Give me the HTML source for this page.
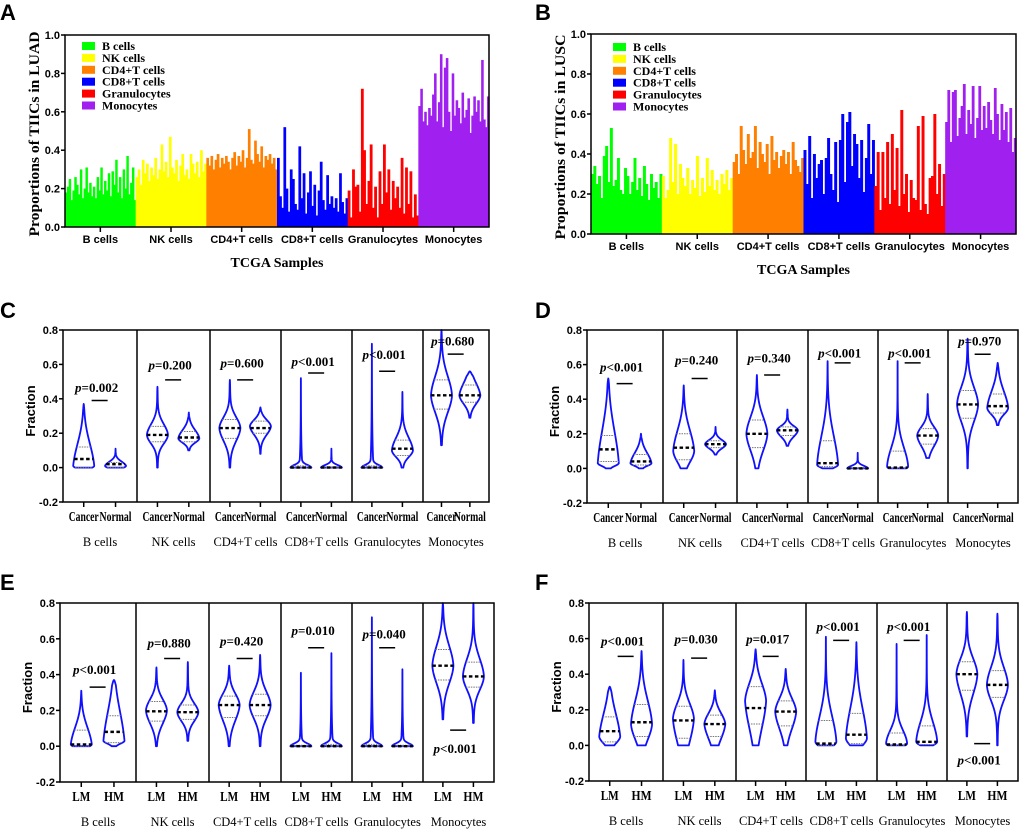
<!DOCTYPE html>
<html><head><meta charset="utf-8"><style>
body{margin:0;background:#fff;width:1020px;height:834px;overflow:hidden}
svg{display:block}
.pl{font:bold 22px "Liberation Sans",sans-serif}
.tk{font:bold 11px "Liberation Sans",sans-serif}
.sv{font-family:"Liberation Serif",serif}
</style></head><body>
<svg id="fig" width="1020" height="834" viewBox="0 0 1020 834" xmlns="http://www.w3.org/2000/svg">
<text class="pl" x="0" y="20">A</text>
<text class="pl" x="535" y="20">B</text>
<text class="pl" x="0" y="318">C</text>
<text class="pl" x="535" y="318">D</text>
<text class="pl" x="0" y="590">E</text>
<text class="pl" x="535" y="590">F</text>
</svg>
<script>
const cellTypes=["B cells","NK cells","CD4+T cells","CD8+T cells","Granulocytes","Monocytes"];
const barColors=["#00ff00","#ffff00","#ff8000","#0000ff","#ff0000","#a020f0"];
const barTicks=[0,0.2,0.4,0.6,0.8,1.0];
const violinTicks=[-0.2,0,0.2,0.4,0.6,0.8];
// Panel A (LUAD) sample proportions
const aB=[0.18,0.21,0.25,0.14,0.19,0.26,0.22,0.17,0.30,0.15,0.20,0.31,0.18,0.23,0.16,0.21,0.15,0.26,0.19,0.31,0.17,0.24,0.19,0.28,0.16,0.29,0.22,0.35,0.18,0.26,0.15,0.30,0.20,0.37,0.17,0.23,0.31,0.14];
const aNK=[0.26,0.30,0.22,0.35,0.28,0.33,0.24,0.31,0.27,0.36,0.25,0.30,0.43,0.29,0.34,0.26,0.47,0.31,0.28,0.35,0.24,0.32,0.38,0.27,0.30,0.25,0.38,0.33,0.28,0.34,0.26,0.40,0.29,0.33];
const aCD4=[0.36,0.32,0.37,0.30,0.35,0.38,0.31,0.36,0.33,0.37,0.34,0.30,0.36,0.39,0.32,0.37,0.34,0.40,0.31,0.36,0.51,0.35,0.33,0.45,0.38,0.34,0.42,0.31,0.37,0.35,0.38,0.33,0.36,0.30];
const aCD8=[0.36,0.16,0.10,0.52,0.20,0.08,0.30,0.25,0.12,0.09,0.42,0.15,0.28,0.07,0.18,0.29,0.11,0.22,0.06,0.19,0.34,0.14,0.09,0.27,0.12,0.16,0.10,0.15,0.08,0.28,0.13,0.07,0.15];
const aGr=[0.19,0.05,0.30,0.21,0.22,0.08,0.72,0.40,0.12,0.24,0.43,0.10,0.21,0.05,0.29,0.12,0.43,0.18,0.30,0.09,0.24,0.15,0.21,0.10,0.36,0.07,0.31,0.12,0.29,0.05,0.17,0.06];
const aMo=[0.63,0.72,0.55,0.60,0.53,0.62,0.58,0.69,0.80,0.55,0.65,0.90,0.52,0.83,0.88,0.60,0.50,0.80,0.58,0.66,0.62,0.54,0.70,0.57,0.61,0.67,0.49,0.58,0.68,0.60,0.66,0.55,0.87,0.56,0.52,0.68];
// Panel B (LUSC)
const bB=[0.30,0.34,0.25,0.29,0.18,0.39,0.44,0.26,0.53,0.24,0.27,0.38,0.22,0.20,0.33,0.29,0.20,0.26,0.38,0.22,0.28,0.19,0.34,0.25,0.17,0.30,0.23,0.26,0.18,0.30];
const bNK=[0.29,0.18,0.22,0.48,0.26,0.45,0.20,0.35,0.28,0.24,0.33,0.20,0.27,0.23,0.39,0.19,0.28,0.21,0.38,0.24,0.32,0.22,0.27,0.20,0.30,0.25,0.32,0.22,0.28];
const bCD4=[0.36,0.40,0.30,0.54,0.42,0.35,0.50,0.38,0.41,0.54,0.33,0.46,0.40,0.36,0.45,0.30,0.49,0.37,0.41,0.33,0.39,0.42,0.35,0.41,0.30,0.46,0.37,0.34,0.31,0.38];
const bCD8=[0.42,0.25,0.49,0.18,0.40,0.28,0.35,0.37,0.20,0.38,0.48,0.30,0.22,0.46,0.16,0.47,0.60,0.26,0.56,0.61,0.34,0.50,0.45,0.28,0.47,0.21,0.38,0.55,0.30,0.47];
const bGr=[0.24,0.41,0.12,0.41,0.18,0.46,0.15,0.50,0.22,0.43,0.14,0.62,0.20,0.30,0.11,0.27,0.18,0.17,0.54,0.12,0.59,0.15,0.10,0.28,0.29,0.60,0.20,0.35,0.14,0.30];
const bMo=[0.56,0.72,0.46,0.71,0.72,0.49,0.58,0.64,0.75,0.50,0.62,0.55,0.74,0.48,0.58,0.74,0.52,0.64,0.53,0.66,0.57,0.50,0.73,0.60,0.47,0.65,0.52,0.61,0.46,0.63,0.41,0.48];
// Violin stats: [min,max,q1,median,q3,peak] ; pairs per cell type
const cStats=[[[0,0.37,0,0.05,0.12,0.01],[0,0.11,0,0.02,0.03,0.01]],[[0,0.47,0.15,0.19,0.24,0.19],[0.10,0.32,0.15,0.175,0.21,0.17]],[[0,0.51,0.17,0.23,0.28,0.23],[0.08,0.35,0.20,0.23,0.27,0.24]],[[0,0.52,0,0,0.01,0],[0,0.11,0,0,0.005,0]],[[0,0.72,0,0,0.01,0],[0,0.44,0.07,0.11,0.16,0.10]],[[0.13,0.80,0.34,0.42,0.51,0.42],[0.29,0.56,0.38,0.42,0.48,0.42]]];
const dStats=[[[0,0.52,0.04,0.11,0.19,0.03],[0,0.20,0.02,0.04,0.08,0.03]],[[0,0.48,0.05,0.12,0.20,0.10],[0.08,0.24,0.12,0.14,0.16,0.14]],[[0,0.54,0.12,0.20,0.28,0.20],[0.13,0.34,0.19,0.22,0.24,0.22]],[[0,0.62,0.01,0.03,0.16,0.02],[0,0.09,0,0,0.005,0]],[[0,0.62,0,0.005,0.10,0.01],[0.06,0.43,0.14,0.19,0.23,0.19]],[[0,0.75,0.29,0.37,0.45,0.37],[0.25,0.61,0.32,0.36,0.43,0.35]]];
const eStats=[[[0,0.31,0,0.01,0.09,0.01],[0,0.37,0.02,0.08,0.17,0.03]],[[0,0.44,0.14,0.195,0.25,0.20],[0.03,0.47,0.15,0.19,0.23,0.19]],[[0,0.45,0.16,0.23,0.28,0.23],[0,0.51,0.17,0.23,0.29,0.23]],[[0,0.41,0,0,0.005,0],[0,0.52,0,0,0.01,0]],[[0,0.72,0,0,0.01,0],[0,0.43,0,0,0.005,0]],[[0.15,0.80,0.37,0.45,0.54,0.45],[0.13,0.80,0.33,0.39,0.47,0.39]]];
const fStats=[[[0,0.33,0.02,0.08,0.16,0.05],[0,0.53,0.05,0.13,0.23,0.12]],[[0,0.48,0.04,0.14,0.22,0.15],[0,0.31,0.05,0.12,0.17,0.12]],[[0,0.54,0.12,0.21,0.33,0.25],[0,0.43,0.11,0.19,0.25,0.19]],[[0,0.61,0,0.01,0.14,0.02],[0,0.58,0.01,0.06,0.18,0.04]],[[0,0.57,0,0.005,0.07,0.01],[0,0.62,0.005,0.02,0.11,0.02]],[[0.05,0.75,0.31,0.40,0.47,0.40],[0,0.74,0.27,0.34,0.42,0.34]]];
// p-value annotations: [label, textValue, barValue]
const cP=[["=0.002",0.47,0.39],["=0.200",0.60,0.51],["=0.600",0.61,0.51],["<0.001",0.62,0.55],["<0.001",0.66,0.56],["=0.680",0.74,0.66]];
const dP=[["<0.001",0.59,0.49],["=0.240",0.63,0.52],["=0.340",0.64,0.54],["<0.001",0.67,0.61],["<0.001",0.67,0.61],["=0.970",0.74,0.66]];
const eP=[["<0.001",0.43,0.33],["=0.880",0.58,0.49],["=0.420",0.59,0.49],["=0.010",0.65,0.55],["=0.040",0.63,0.55],["<0.001",-0.01,0.09]];
const fP=[["<0.001",0.59,0.50],["=0.030",0.60,0.49],["=0.017",0.60,0.50],["<0.001",0.67,0.59],["<0.001",0.67,0.59],["<0.001",-0.08,0.01]];

const NS="http://www.w3.org/2000/svg";
const fig=document.getElementById('fig');
function mk(tag,attrs,parent,text){const e=document.createElementNS(NS,tag);for(const k in attrs)e.setAttribute(k,attrs[k]);if(text!==undefined)e.textContent=text;(parent||fig).appendChild(e);return e;}

function barPanel(L,groups,title,legX,legY0){
  const g=mk('g',{});
  
  
  const y=v=>L.y1-(v)*(L.y1-L.y0);
  const gw=(L.x1-L.x0)/6;
  groups.forEach((arr,gi)=>{
    const bw=gw/arr.length;
    arr.forEach((v,i)=>{
      const r=mk('rect',{x:(L.x0+gi*gw+i*bw).toFixed(2),y:y(v).toFixed(2),width:(bw+0.6).toFixed(2),height:(L.y1-y(v)).toFixed(2),fill:barColors[gi]},g);
      
      
    });
    const cx=L.x0+gi*gw+gw/2;
    mk('line',{x1:cx,x2:cx,y1:L.y1,y2:L.y1+5,stroke:'#000','stroke-width':1.5},g);
    const t=mk('text',{x:cx,y:L.y1+16,'text-anchor':'middle',class:'tk'},g,cellTypes[gi]);
    
    
  });
  mk('rect',{x:L.x0,y:L.y0,width:L.x1-L.x0,height:L.y1-L.y0,fill:'none',stroke:'#000','stroke-width':1.5},g);
  barTicks.forEach(v=>{
    mk('line',{x1:L.x0-4,x2:L.x0,y1:y(v),y2:y(v),stroke:'#000','stroke-width':1.5},g);
    const t=mk('text',{x:L.x0-5,y:y(v)+4,'text-anchor':'end',class:'tk'},g,v.toFixed(1));
    
    
  });
  const yt=mk('text',{transform:`translate(${L.x0-26},${(L.y0+L.y1)/2+3}) rotate(-90)`,'text-anchor':'middle',class:'sv','font-size':'14.5','font-weight':'bold','textLength':'205','lengthAdjust':'spacingAndGlyphs'},g,title);
  
  
  const xt=mk('text',{x:(L.x0+L.x1)/2,y:L.y1+40,'text-anchor':'middle',class:'sv','font-size':'14','font-weight':'bold'},g,'TCGA Samples');
  
  
  cellTypes.forEach((c,i)=>{
    const ly=legY0+i*11.9;
    const lg=mk('g',{},g);
    
    
    mk('rect',{x:legX,y:ly-4,width:13,height:8,fill:barColors[i]},lg);
    mk('text',{x:legX+20,y:ly+4,class:'sv','font-size':'12','font-weight':'bold'},lg,c);
  });
}

function violinShape(st){
  const [mn,mx,q1,md,q3,pk]=st;
  const sd=Math.max(pk-q1,0.012)/0.8, su=Math.max(q3-pk,0.012)/0.8, rng=Math.max(mx-mn,0.01);
  return v=>{
    let gg=v<pk?Math.exp(-0.5*((pk-v)/sd)**2):Math.exp(-0.5*((v-pk)/su)**2);
    gg=0.85*gg+0.15*Math.exp(-Math.abs(v-pk)/(rng*0.25));
    const tap=Math.sqrt(Math.min(1,Math.max(0,(mx-v)/0.03)));
    return gg*tap;
  };
}

function violinPanel(L,stats,pv,grp,id){
  const g=mk('g',{});
  
  
  const y=v=>L.y1-(v+0.2)/1.0*(L.y1-L.y0);
  const edges=[L.x0,...L.div,L.x1];
  const lens=grp[0]==='Cancer'?[30,32]:[18,20];
  stats.forEach((pair,gi)=>{
    const a=edges[gi],b=edges[gi+1],w=b-a;
    const xs=[a+w*0.28,a+w*0.71];
    pair.forEach((st,k)=>{
      const f=violinShape(st);const N=90;let mxv=0;const pts=[];
      for(let i=0;i<=N;i++){const v=st[0]+(st[1]-st[0])*i/N;const h=f(v);pts.push([v,h]);if(h>mxv)mxv=h;}
      const H=10.5/mxv;const cx=xs[k];
      let d=`M${cx},${y(st[0])}`;
      pts.forEach(p=>d+=`L${(cx-p[1]*H).toFixed(2)},${y(p[0]).toFixed(2)}`);
      for(let i=pts.length-1;i>=0;i--)d+=`L${(cx+pts[i][1]*H).toFixed(2)},${y(pts[i][0]).toFixed(2)}`;
      d+='Z';
      const vg=mk('g',{},g);
      
      
      mk('path',{d,fill:'#fff',stroke:'#1010ff','stroke-width':1.8,'stroke-linejoin':'round'},vg);
      [st[2],st[4]].forEach(q=>{const hw=f(q)*H;if(hw>1.5)mk('line',{x1:cx-hw,x2:cx+hw,y1:y(q),y2:y(q),stroke:'#777','stroke-width':1,'stroke-dasharray':'1.5 1'},vg);});
      const hm=Math.max(f(st[3])*H,3);
      mk('line',{x1:cx-hm,x2:cx+hm,y1:y(st[3]),y2:y(st[3]),stroke:'#000','stroke-width':2.4,'stroke-dasharray':'3.5 2.5'},vg);
      mk('line',{x1:cx,x2:cx,y1:L.y1,y2:L.y1+5,stroke:'#000','stroke-width':1.5},g);
      const t=mk('text',{x:cx,y:L.y1+19,'text-anchor':'middle',class:'sv','font-size':'13.5','font-weight':'bold','textLength':lens[k],'lengthAdjust':'spacingAndGlyphs'},g,grp[k]);
      
      
    });
    const mid=(xs[0]+xs[1])/2;
    const p=pv[gi];
    mk('line',{x1:mid-8,x2:mid+8,y1:y(p[2]),y2:y(p[2]),stroke:'#000','stroke-width':1.5},g);
    const pt=mk('text',{x:mid-3,y:y(p[1])+5,'text-anchor':'middle',class:'sv','font-size':'13','font-weight':'bold'},g);
    
    
    mk('tspan',{'font-style':'italic'},pt,'p');
    mk('tspan',{},pt,p[0]);
    const ct=mk('text',{x:(a+b)/2,y:L.y1+44,'text-anchor':'middle',class:'sv','font-size':'12.5'},g,cellTypes[gi]);
    
    
  });
  mk('rect',{x:L.x0,y:L.y0,width:L.x1-L.x0,height:L.y1-L.y0,fill:'none',stroke:'#000','stroke-width':1.5},g);
  L.div.forEach(x=>mk('line',{x1:x,x2:x,y1:L.y0,y2:L.y1,stroke:'#000','stroke-width':1.5},g));
  violinTicks.forEach(v=>{
    mk('line',{x1:L.x0-4,x2:L.x0,y1:y(v),y2:y(v),stroke:'#000','stroke-width':1.5},g);
    const t=mk('text',{x:L.x0-5,y:y(v)+4,'text-anchor':'end',class:'tk'},g,v.toFixed(1));
    
    
  });
  const yt=mk('text',{transform:`translate(${L.x0-28},${(L.y0+L.y1)/2-5}) rotate(-90)`,'text-anchor':'middle','font-family':'Liberation Sans,sans-serif','font-size':'13','font-weight':'bold'},g,'Fraction');
  
  
}

barPanel({id:'a',x0:65,x1:489,y0:35,y1:227},[aB,aNK,aCD4,aCD8,aGr,aMo],'Proportions of TIICs in LUAD',82,46);
barPanel({id:'b',x0:591,x1:1016,y0:34,y1:234},[bB,bNK,bCD4,bCD8,bGr,bMo],'Proportions of TIICs in LUSC',613,47);
violinPanel({x0:63,x1:489,y0:330,y1:502,div:[137,210,281,352,423]},cStats,cP,['Cancer','Normal'],'c');
violinPanel({x0:587,x1:1018,y0:330,y1:503,div:[663,737,808,878,948]},dStats,dP,['Cancer','Normal'],'d');
violinPanel({x0:60,x1:494,y0:603,y1:782,div:[136,209,281,352,423]},eStats,eP,['LM','HM'],'e');
violinPanel({x0:589,x1:1018,y0:603,y1:781,div:[663,736,806,877,947]},fStats,fP,['LM','HM'],'f');
</script>
</body></html>
